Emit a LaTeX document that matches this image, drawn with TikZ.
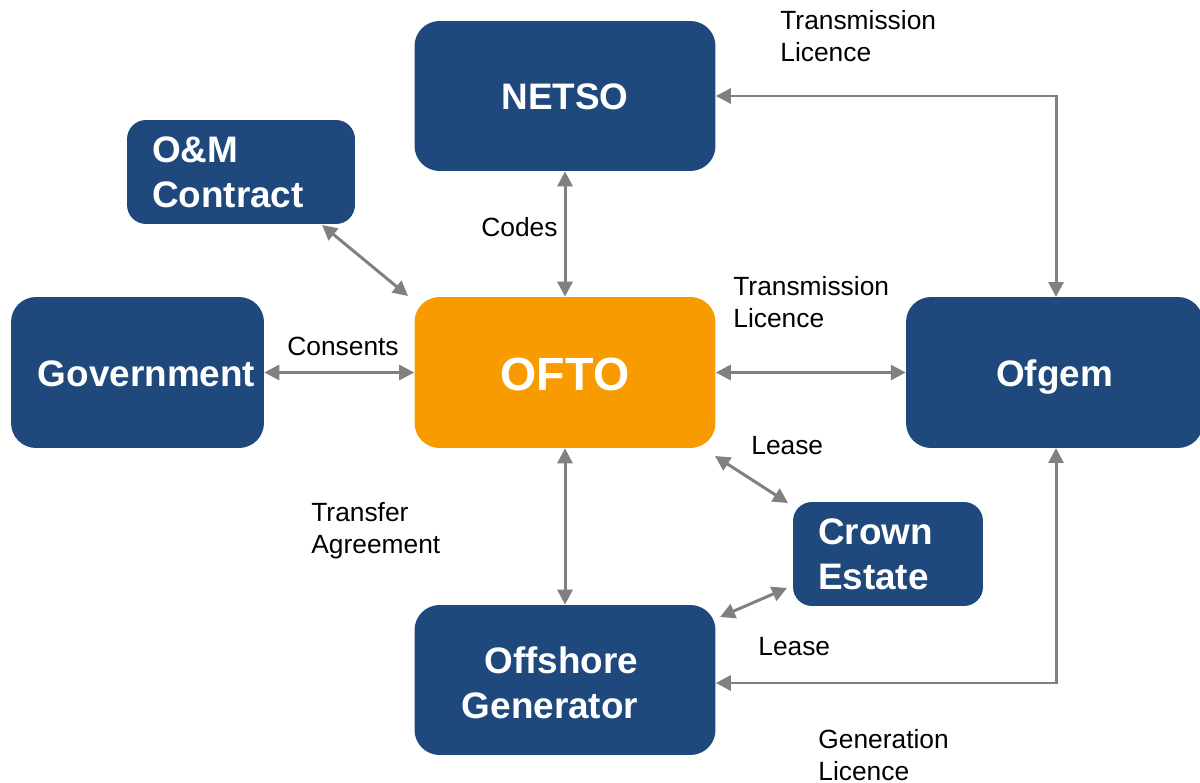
\documentclass[tikz,border=0pt]{standalone}
\usepackage{fontspec}
\setmainfont{Liberation Sans}
\usetikzlibrary{arrows.meta}
\definecolor{boxblue}{RGB}{31,73,125}
\definecolor{boxorange}{RGB}{248,155,0}
\definecolor{linkgray}{RGB}{128,128,128}
\tikzset{
  box/.style={fill=boxblue, rounded corners=0.5cm, text=white,
    font=\bfseries\fontsize{21}{25.5}\selectfont, align=center, inner sep=0pt},
  oneline/.style={text height=1.55ex+8pt, text depth=0.05ex},
  smallbox/.style={box, rounded corners=0.38cm, align=left},
  hub/.style={box, fill=boxorange, font=\bfseries\fontsize{26.5}{30}\selectfont,
    text height=1.55ex+12.5pt, text depth=0.05ex},
  boxtext/.style={text=white, font=\bfseries\fontsize{21}{25.5}\selectfont, inner sep=0pt},
  lbl/.style={font=\fontsize{15}{18}\selectfont, align=left, anchor=west, inner sep=0pt},
  link/.style={draw=linkgray, line width=1.7pt,
    {Triangle[length=8.5pt,width=8.5pt]}-{Triangle[length=8.5pt,width=8.5pt]}}
}
\begin{document}
\begin{tikzpicture}[x=0.02cm, y=-0.02cm]
\useasboundingbox (0,0) rectangle (1200,783);
\clip (0,0) rectangle (1200,783);

% boxes
\node[box, oneline, minimum width=6.02cm, minimum height=3.0cm] (netso) at (565,96) {NETSO};
\node[hub, minimum width=6.02cm, minimum height=3.02cm] (ofto) at (565,372.5) {OFTO};
\node[box, oneline, minimum width=5.06cm, minimum height=3.02cm] (gov) at (137.5,372.5) {\hspace{0.36cm}Government};
\node[box, oneline, minimum width=5.94cm, minimum height=3.02cm] (ofgem) at (1054.5,372.5) {Ofgem};
\node[box, minimum width=6.02cm, minimum height=3.0cm] (gen) at (565,680) {};
\node[boxtext, align=right] (gentext) at (550,683) {Offshore\\Generator};
\node[smallbox, minimum width=4.56cm, minimum height=2.08cm, text width=3.56cm] (om) at (241,172) {O\&M\\Contract};
\node[smallbox, minimum width=3.8cm, minimum height=2.08cm, text width=2.8cm] (crown) at (888,554) {Crown\\Estate};

% connector end points
\coordinate (omA) at (322,225);
\coordinate (oftoNW) at (408,296);
\coordinate (oftoSE) at (715,456);
\coordinate (crownNW) at (788,503);
\coordinate (genNE) at (720,617);
\coordinate (crownSW) at (787,588);

% connectors
\draw[link] (netso.south) -- (ofto.north);
\draw[link] (ofto.south) -- (gen.north);
\draw[link] (gov.east) -- (ofto.west);
\draw[link] (ofto.east) -- (ofgem.west);
\draw[link] (omA) -- (oftoNW);
\draw[link] (oftoSE) -- (crownNW);
\draw[link] (genNE) -- (crownSW);
\draw[link] (netso.east) -| (1056,297);
\draw[link] (gen.east |- 0,683) -| (1056,448);

% labels
\node[lbl] (l1) at (780,36) {Transmission\\Licence};
\node[lbl] (l2) at (481,227) {Codes};
\node[lbl] (l3) at (287,346) {Consents};
\node[lbl] (l4) at (733,302) {Transmission\\Licence};
\node[lbl] (l5) at (751,446) {Lease};
\node[lbl] (l6) at (311,531) {Transfer\\Agreement};
\node[lbl] (l7) at (758,647) {Lease};
\node[lbl] (l8) at (818,755) {Generation\\Licence};
\end{tikzpicture}
\end{document}
